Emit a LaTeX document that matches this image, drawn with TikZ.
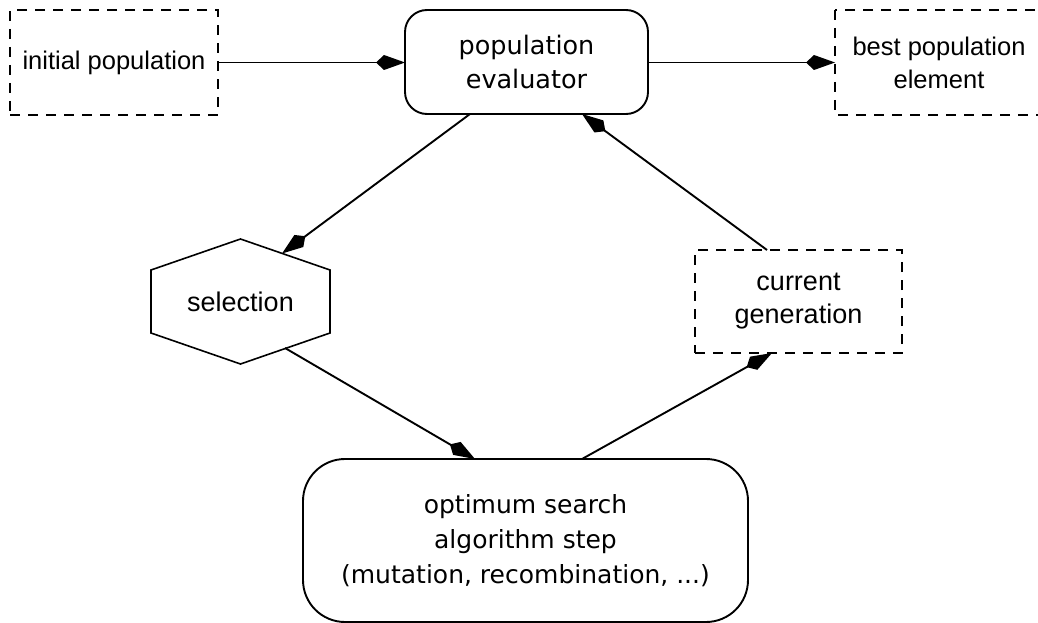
\documentclass[tikz,border=0pt]{standalone}
\usepackage{fontspec}
\usetikzlibrary{arrows.meta}
\newfontfamily\arialf{Liberation Sans}
\newfontfamily\dejavuf{DejaVu Sans}
\begin{document}
\begin{tikzpicture}[x=1pt,y=-1pt,
  every node/.style={inner sep=0pt,outer sep=0pt,align=center},
  dashline/.style={line width=1.7pt,dash pattern=on 10pt off 8pt},
  dashbox/.style={draw,dashline,font=\arialf\fontsize{25.5}{33}\selectfont},
  roundbox/.style={draw,line width=1.9pt,
    font=\dejavuf\fontsize{25.5}{34}\selectfont},
  conn/.style={line width=1.9pt,-{Kite[length=29pt,width=15pt,inset=8pt]}}]
\useasboundingbox (0,0) rectangle (1038,623);
\fill[white] (0,0) rectangle (1038,623);
% nodes
\node[dashbox,minimum width=208pt,minimum height=105pt] (init) at (114,62.5) {initial population};
\node[roundbox,rounded corners=22pt,minimum width=243pt,minimum height=104pt] (eval) at (526.5,62) {population\\evaluator};
\node[minimum width=208pt,minimum height=105pt,font=\arialf\fontsize{25.5}{33}\selectfont] (best) at (939,62.5) {best population\\element};
\draw[dashline] (best.north west) rectangle ([xshift=30pt]best.south east);
\node[minimum width=179pt,minimum height=125pt,font=\arialf\fontsize{27}{33}\selectfont] (sel) at (240.5,301.5) {selection};
\draw[line width=1.6pt] (sel.north) -- ([yshift=-31pt]sel.north west) -- ([yshift=31pt]sel.south west)
  -- (sel.south) -- ([yshift=31pt]sel.south east) -- ([yshift=-31pt]sel.north east) -- cycle;
\node[dashbox,minimum width=207pt,minimum height=103pt,font=\arialf\fontsize{27}{33}\selectfont] (cur) at (798.5,301.5) {current\\generation};
\node[roundbox,rounded corners=42pt,minimum width=445pt,minimum height=163pt,
  font=\dejavuf\fontsize{25}{35}\selectfont] (opt) at (525.5,540.5) {optimum search\\algorithm step\\(mutation, recombination, ...)};
% named endpoints
\coordinate (selin) at (282,253.5);
\coordinate (selout) at (285,348);
% connectors
\draw[conn] (init.east) -- (eval.west |- init.east);
\draw[conn] (eval.east |- best.west) -- (best.west);
\draw[conn] ([xshift=-56.5pt]eval.south) -- (selin);
\draw[conn] (selout) -- ([xshift=-50.5pt]opt.north);
\draw[conn] ([xshift=56.5pt]opt.north) -- ([xshift=-26.5pt]cur.south);
\draw[conn] ([xshift=-31.5pt]cur.north) -- ([xshift=55.5pt]eval.south);
\end{tikzpicture}
\end{document}
